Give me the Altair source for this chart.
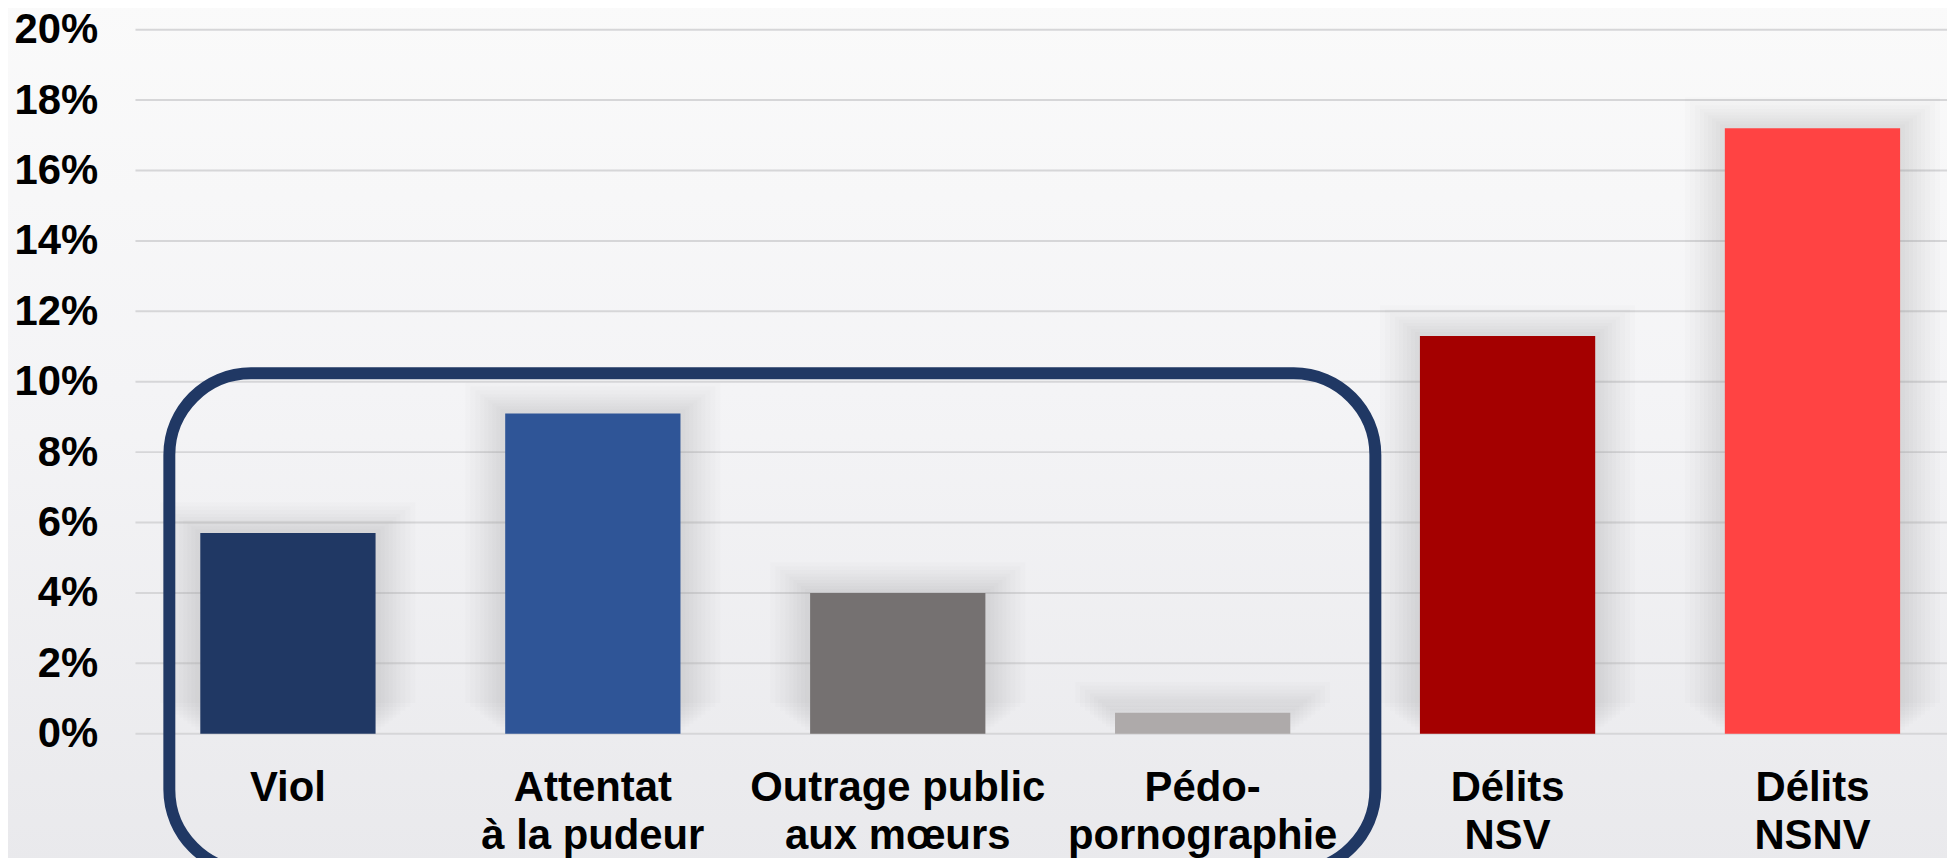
import altair as alt
import pandas as pd

categories = ["Viol", "Attentat\nà la pudeur", "Outrage public\naux mœurs",
              "Pédo-\npornographie", "Délits\nNSV", "Délits\nNSNV"]
values = [5.7, 9.1, 4.0, 0.6, 11.3, 17.2]
colors = ["#203864", "#2F5597", "#757171", "#AEAAAA", "#A40000", "#FF4343"]
y_ticks = [0, 2, 4, 6, 8, 10, 12, 14, 16, 18, 20]

df = pd.DataFrame({"cat": categories, "val": values})
grid_df = pd.DataFrame({"val": y_ticks})
one = pd.DataFrame({"a": [0]})

FONT = "Liberation Sans"
PLOT_W = 1819
PLOT_H = 707

x_enc = alt.X("cat:N", sort=categories,
              scale=alt.Scale(range=[0, 1837], paddingInner=0, paddingOuter=0),
              axis=alt.Axis(title=None, labelExpr="split(datum.label, '\\n')",
                            labelFont=FONT, labelFontSize=42, labelFontWeight="bold",
                            labelColor="#000000", labelLimit=0, labelLineHeight=48,
                            labelPadding=34, labelAngle=0, ticks=False, tickSize=0,
                            domain=False, grid=False, labelBaseline="top", zindex=1))
y_scale = alt.Scale(domain=[0, 20], nice=False, zero=True)
y_enc = alt.Y("val:Q", scale=y_scale,
              axis=alt.Axis(title=None, values=y_ticks, labelExpr="datum.value + '%'",
                            labelFont=FONT, labelFontSize=42, labelFontWeight="bold",
                            labelColor="#000000", labelPadding=38, ticks=False, tickSize=0,
                            domain=False, grid=False, zindex=1))

grad = alt.LinearGradient(gradient="linear", x1=0, x2=0, y1=0, y2=1,
                          stops=[alt.GradientStop(color="#FAFAFA", offset=0),
                                 alt.GradientStop(color="#F4F4F6", offset=0.45),
                                 alt.GradientStop(color="#E9E9EC", offset=1)])

bg = alt.Chart(one).mark_rect(fill=grad, strokeWidth=0).encode(
    x=alt.value(-140), x2=alt.value(1840), y=alt.value(-30), y2=alt.value(840))

gridlines = alt.Chart(grid_df).mark_rule(color="#D6D6D8", strokeWidth=2).encode(
    y=y_enc, x=alt.value(0), x2=alt.value(PLOT_W))

base = alt.Chart(df)

shadows = []
for extra in [80, 70, 60, 50, 42, 34, 26, 18, 10]:
    shadows.append(base.mark_bar(width=176 + extra, color="#84848C", opacity=0.024,
                                 yOffset=-extra / 2.6).encode(x=x_enc, y=y_enc))

bars = base.mark_bar(width=176).encode(
    x=x_enc, y=y_enc,
    color=alt.Color("cat:N", scale=alt.Scale(domain=categories, range=colors), legend=None))

box = alt.Chart(one).mark_rect(filled=False, stroke="#203864", strokeWidth=12,
                               cornerRadius=82).encode(
    x=alt.value(34), x2=alt.value(1245), y=alt.value(345), y2=alt.value(845))

chart = alt.layer(bg, gridlines, *shadows, bars, box).properties(
    width=PLOT_W, height=PLOT_H,
    autosize=alt.AutoSizeParams(type="none"),
    padding={"left": 128, "top": 20, "right": 0, "bottom": 123},
    background="#F2F2F4",
).configure_view(stroke=None)

chart.save("out.html", embed_options={"renderer": "svg", "actions": False})
